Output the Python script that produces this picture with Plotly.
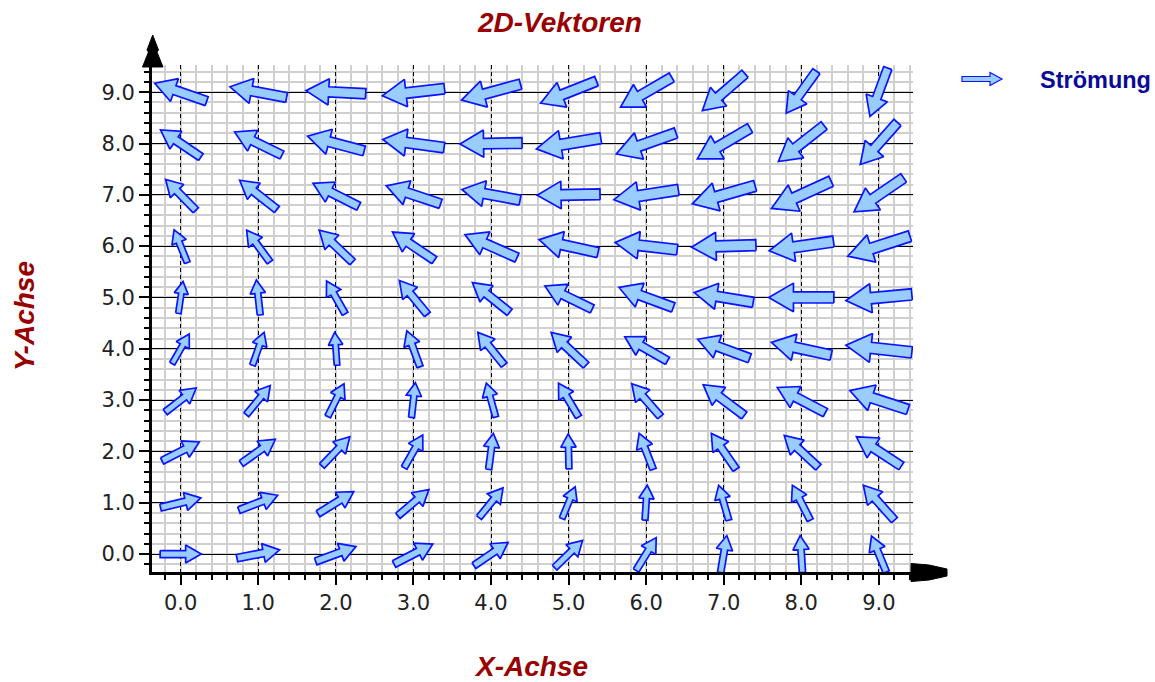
import math
import plotly.graph_objects as go

# ---------------- data ----------------
x_cats = [0, 1, 2, 3, 4, 5, 6, 7, 8, 9]
y_cats = [0, 1, 2, 3, 4, 5, 6, 7, 8, 9]
x_tick_labels = ["0.0", "1.0", "2.0", "3.0", "4.0", "5.0", "6.0", "7.0", "8.0", "9.0"]
y_tick_labels = ["0.0", "1.0", "2.0", "3.0", "4.0", "5.0", "6.0", "7.0", "8.0", "9.0"]

# vector components (axis units), one row per y value, columns x = 0..9
u_rows = [
    [0.53, 0.55, 0.52, 0.50, 0.44, 0.36, 0.26, 0.08, -0.03, -0.19],
    [0.52, 0.50, 0.46, 0.40, 0.31, 0.17, 0.03, -0.13, -0.23, -0.40],
    [0.48, 0.44, 0.36, 0.24, 0.06, -0.01, -0.18, -0.32, -0.44, -0.58],
    [0.40, 0.31, 0.21, 0.05, -0.12, -0.26, -0.37, -0.53, -0.62, -0.75],
    [0.22, 0.15, -0.03, -0.17, -0.34, -0.45, -0.55, -0.67, -0.77, -0.85],
    [0.06, -0.05, -0.24, -0.36, -0.48, -0.61, -0.70, -0.76, -0.84, -0.85],
    [-0.17, -0.30, -0.43, -0.54, -0.67, -0.76, -0.80, -0.83, -0.83, -0.80],
    [-0.39, -0.48, -0.59, -0.70, -0.75, -0.81, -0.83, -0.81, -0.77, -0.64],
    [-0.52, -0.61, -0.73, -0.79, -0.80, -0.83, -0.77, -0.68, -0.59, -0.48],
    [-0.67, -0.73, -0.77, -0.80, -0.76, -0.72, -0.66, -0.55, -0.39, -0.23],
]
v_rows = [
    [0.00, 0.16, 0.29, 0.39, 0.45, 0.53, 0.64, 0.72, 0.72, 0.70],
    [0.19, 0.29, 0.43, 0.51, 0.58, 0.62, 0.68, 0.68, 0.68, 0.68],
    [0.37, 0.47, 0.57, 0.64, 0.70, 0.68, 0.70, 0.70, 0.62, 0.57],
    [0.47, 0.57, 0.64, 0.68, 0.66, 0.66, 0.64, 0.60, 0.49, 0.37],
    [0.58, 0.64, 0.64, 0.70, 0.64, 0.64, 0.47, 0.37, 0.25, 0.14],
    [0.62, 0.68, 0.64, 0.66, 0.58, 0.45, 0.39, 0.19, 0.00, -0.12],
    [0.64, 0.62, 0.62, 0.55, 0.45, 0.25, 0.14, -0.04, -0.18, -0.39],
    [0.60, 0.57, 0.45, 0.35, 0.21, -0.02, -0.19, -0.35, -0.53, -0.66],
    [0.53, 0.45, 0.29, 0.16, -0.02, -0.21, -0.41, -0.60, -0.70, -0.82],
    [0.35, 0.21, 0.06, -0.14, -0.31, -0.43, -0.58, -0.72, -0.82, -0.94],
]
series_name = "Strömung"

# ---------------- layout geometry ----------------
W, H = 1155, 682
ml, mr, mt, mb = 152, 242, 65, 110
x_range = [-0.37, 9.44]
y_range = [-0.35, 9.53]
pw = W - ml - mr
ph = H - mt - mb
sx = pw / (x_range[1] - x_range[0])   # px per x unit
sy = ph / (y_range[1] - y_range[0])   # px per y unit


def arrow_pixels(dx, dy):
    """Block-arrow outline (pixel offsets, y up) centred on 0,0."""
    L = math.hypot(dx, dy)
    ex, ey = dx / L, dy / L
    nx, ny = -ey, ex
    hl, hw, sw = 0.38 * L, 0.22 * L, 0.085 * L
    tx, ty = -dx / 2, -dy / 2
    px_, py_ = dx / 2, dy / 2
    bx, by = px_ - hl * ex, py_ - hl * ey
    return [
        (tx + sw * nx, ty + sw * ny),
        (bx + sw * nx, by + sw * ny),
        (bx + hw * nx, by + hw * ny),
        (px_, py_),
        (bx - hw * nx, by - hw * ny),
        (bx - sw * nx, by - sw * ny),
        (tx - sw * nx, ty - sw * ny),
        (tx + sw * nx, ty + sw * ny),
    ]


xs, ys = [], []
for j, yc in enumerate(y_cats):
    for i, xc in enumerate(x_cats):
        dxp = u_rows[j][i] * sx
        dyp = v_rows[j][i] * sy
        for (ox, oy) in arrow_pixels(dxp, dyp):
            xs.append(xc + ox / sx)
            ys.append(yc + oy / sy)
        xs.append(None)
        ys.append(None)

fig = go.Figure()
fig.add_trace(go.Scatter(
    x=xs, y=ys, mode="lines", fill="toself",
    fillcolor="#99ccff", line=dict(color="#0a14ff", width=1.7),
    hoverinfo="skip", showlegend=False, name=series_name,
))


def pp(px, py):
    return (px - ml) / pw, (H - mb - py) / ph


def path_from_px(points):
    parts = []
    for k, (a, b) in enumerate(points):
        X, Y = pp(a, b)
        parts.append(("M" if k == 0 else "L") + f"{X:.5f},{Y:.5f}")
    return " ".join(parts) + " Z"


shapes = []
# y-axis arrow head
shapes.append(dict(type="path", xref="paper", yref="paper",
                   path=path_from_px([(152.7, 35), (158.5, 50), (157, 52), (163, 67),
                                      (142.5, 67), (148.5, 52), (147, 50)]),
                   fillcolor="black", line=dict(color="black", width=1), layer="above"))
# y-axis extension to arrow
shapes.append(dict(type="line", xref="paper", yref="paper",
                   x0=pp(152.5, 0)[0], x1=pp(152.5, 0)[0], y0=pp(0, 67)[1], y1=pp(0, 64)[1],
                   line=dict(color="black", width=3)))
# x-axis arrow head
shapes.append(dict(type="path", xref="paper", yref="paper",
                   path=path_from_px([(911, 563.5), (929, 565), (947, 569), (947, 576),
                                      (929, 580), (911, 581.5)]),
                   fillcolor="black", line=dict(color="black", width=1), layer="above"))

# legend arrow icon
lx0, lx1, lyc = 962, 1002, 79
lpts = [(lx0, lyc - 2.5), (lx1 - 12, lyc - 2.5), (lx1 - 12, lyc - 6.5), (lx1, lyc),
        (lx1 - 12, lyc + 6.5), (lx1 - 12, lyc + 2.5), (lx0, lyc + 2.5)]
shapes.append(dict(type="path", xref="paper", yref="paper", path=path_from_px(lpts),
                   fillcolor="#99ccff", line=dict(color="#0a14ff", width=1.2)))

title_font = dict(family="Liberation Sans", size=28, color="#990000")
annotations = [
    dict(text="<b><i>2D-Vektoren</i></b>", xref="paper", yref="paper",
         x=pp(559, 22)[0], y=pp(559, 22)[1], xanchor="center", yanchor="middle",
         showarrow=False, font=title_font),
    dict(text="<b><i>X-Achse</i></b>", xref="paper", yref="paper",
         x=pp(531, 666)[0], y=pp(531, 666)[1], xanchor="center", yanchor="middle",
         showarrow=False, font=title_font),
    dict(text="<b><i>Y-Achse</i></b>", xref="paper", yref="paper",
         x=pp(24, 316)[0], y=pp(24, 316)[1], xanchor="center", yanchor="middle",
         textangle=-90, showarrow=False, font=title_font),
    dict(text="<b>" + series_name + "</b>", xref="paper", yref="paper",
         x=pp(1038, 80)[0], y=pp(1038, 80)[1], xanchor="left", yanchor="middle",
         showarrow=False, font=dict(family="Liberation Sans", size=23.5, color="#0a0a99")),
]

tick_font = dict(family="DejaVu Sans", size=21, color="#222222")


def axis_common():
    return dict(
        showgrid=True, gridcolor="black", gridwidth=1.3,
        ticks="outside", ticklen=10, tickwidth=2, tickcolor="black",
        showline=True, linewidth=3, linecolor="black",
        zeroline=False, tickfont=tick_font, automargin=False, fixedrange=True,
        minor=dict(dtick=0.2, tick0=0, ticks="outside", ticklen=5, tickwidth=1.5,
                   tickcolor="black", showgrid=True, gridcolor="#cfcfcf", gridwidth=1.6,
                   griddash="solid"),
    )


fig.update_layout(
    width=W, height=H,
    margin=dict(l=ml, r=mr, t=mt, b=mb, pad=0),
    paper_bgcolor="white", plot_bgcolor="white",
    xaxis=dict(range=x_range, tickmode="array", tickvals=x_cats, ticktext=x_tick_labels,
               griddash="4px,3px", **axis_common()),
    yaxis=dict(range=y_range, tickmode="array", tickvals=y_cats, ticktext=y_tick_labels,
               **axis_common()),
    shapes=shapes, annotations=annotations, showlegend=False,
)

fig.write_html("out.html")
